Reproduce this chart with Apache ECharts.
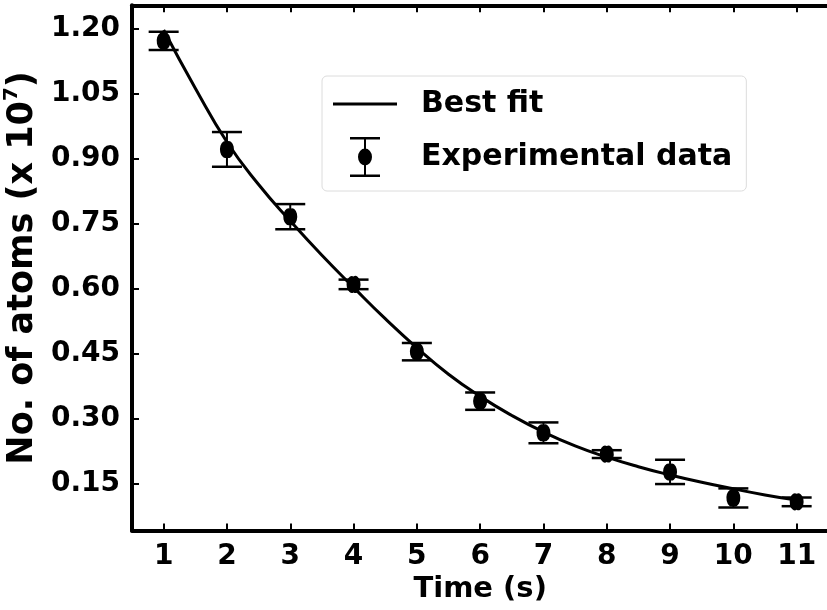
<!DOCTYPE html>
<html>
<head>
<meta charset="utf-8">
<script src="https://cdn.jsdelivr.net/npm/echarts@6/dist/echarts.min.js"></script>
<style>html,body{margin:0;padding:0;background:#fff}#c{width:827px;height:610px}</style>
</head>
<body>
<div id="c"></div>
<script>
// Experimental data
var times = [1, 2, 3, 4, 5, 6, 7, 8, 9, 10, 11];
var atoms = [1.171, 0.921, 0.766, 0.610, 0.455, 0.341, 0.268, 0.219, 0.178, 0.118, 0.109];
var errors = [0.021, 0.040, 0.029, 0.011, 0.020, 0.020, 0.024, 0.009, 0.028, 0.022, 0.010];
// Best-fit curve
var fitT = [1, 1.5, 2, 2.5, 3, 3.5, 4, 4.5, 5, 5.5, 6, 6.5, 7, 7.5, 8, 8.5, 9, 9.5, 10, 10.5, 11];
var fitN = [1.196, 1.062, 0.938, 0.840, 0.756, 0.677, 0.603, 0.531, 0.464, 0.403, 0.352, 0.308, 0.270, 0.238, 0.212, 0.190, 0.171, 0.154, 0.139, 0.125, 0.113];
// Tick labels
var xTicks = [1, 2, 3, 4, 5, 6, 7, 8, 9, 10, 11];
var yTicks = [0.15, 0.30, 0.45, 0.60, 0.75, 0.90, 1.05, 1.20];

var FONT = 'DejaVu Sans';
var chart = echarts.init(document.getElementById('c'), null, {renderer: 'canvas'});

var fitData = fitT.map(function (t, i) { return [t, fitN[i]]; });
var expData = times.map(function (t, i) { return [t, atoms[i], errors[i]]; });

var ellipse = 'path://M0,-8A7,8.5,0,1,1,0,8A7,8.5,0,1,1,0,-8Z';
var lineIcon = 'path://M0,0H64V3H0Z';
var ebIcon = 'path://M0,0H30V2.5H0Z M0,37.5H30V40H0Z M14,2.5H16V37.5H14Z M15,11.5A7,8.5,0,1,1,15,28.5A7,8.5,0,1,1,15,11.5Z';

var axisLineStyle = {show: true, lineStyle: {color: '#000', width: 4}};
var tickStyle = {inside: true, length: 7, lineStyle: {color: '#000', width: 2}};

chart.setOption({
  animation: false,
  backgroundColor: '#fff',
  grid: {left: 132, right: -1.3, top: 5.3, bottom: 79.5, containLabel: false, outerBoundsMode: 'none'},
  legend: {
    orient: 'vertical',
    left: 322, top: 76,
    padding: [13, 14, 14, 11],
    itemGap: 18,
    itemWidth: 64, itemHeight: 40,
    backgroundColor: 'rgba(255,255,255,0.8)',
    borderColor: '#dcdcdc', borderWidth: 1, borderRadius: 5,
    textStyle: {fontFamily: FONT, fontSize: 30, fontWeight: 'bold', color: '#000', padding: [0, 0, 0, 19]},
    data: [{name: 'Best fit', icon: lineIcon}, {name: 'Experimental data', icon: ebIcon}]
  },
  xAxis: [{
    type: 'value', min: 0.5, max: 11.5,
    name: 'Time (s)', nameLocation: 'middle', nameGap: 44,
    nameTextStyle: {fontFamily: FONT, fontSize: 29, fontWeight: 'bold', color: '#000'},
    axisLine: axisLineStyle,
    axisTick: Object.assign({customValues: xTicks}, tickStyle),
    axisLabel: {customValues: xTicks, fontFamily: FONT, fontSize: 28, fontWeight: 'bold', color: '#000', margin: 12},
    splitLine: {show: false}
  }, {
    type: 'value', min: 0.5, max: 11.5, position: 'top',
    axisLine: axisLineStyle,
    axisTick: Object.assign({customValues: xTicks}, tickStyle),
    axisLabel: {show: false},
    splitLine: {show: false}
  }],
  yAxis: [{
    type: 'value', min: 0.043, max: 1.253,
    name: '{a|No. of atoms (x 10}{s|7}{a|)}', nameLocation: 'middle', nameGap: 74, nameRotate: 90,
    nameTextStyle: {
      fontFamily: FONT, fontSize: 35, fontWeight: 'bold', color: '#000',
      rich: {
        a: {fontFamily: FONT, fontSize: 35, fontWeight: 'bold', color: '#000', lineHeight: 42},
        s: {fontFamily: FONT, fontSize: 20, fontWeight: 'bold', color: '#000', lineHeight: 22, verticalAlign: 'top'}
      }
    },
    axisLine: axisLineStyle,
    axisTick: Object.assign({customValues: yTicks}, tickStyle),
    axisLabel: {customValues: yTicks, fontFamily: FONT, fontSize: 28, fontWeight: 'bold', color: '#000', margin: 12,
      formatter: function (v) { return v.toFixed(2); }},
    splitLine: {show: false}
  }],
  series: [{
    name: 'Best fit', type: 'line', data: fitData,
    symbol: 'none', smooth: 0.5,
    lineStyle: {color: '#000', width: 3},
    itemStyle: {color: '#000'},
    z: 3
  }, {
    name: 'Experimental data', type: 'custom', data: expData,
    encode: {x: 0, y: 1},
    itemStyle: {color: '#000'},
    renderItem: function (params, api) {
      var x = api.value(0), y = api.value(1), e = api.value(2);
      var top = api.coord([x, y + e]);
      var bot = api.coord([x, y - e]);
      var hw = 15;
      return {
        type: 'group',
        children: [
          {type: 'line', shape: {x1: top[0], y1: top[1], x2: bot[0], y2: bot[1]}, style: {stroke: '#000', lineWidth: 2}},
          {type: 'line', shape: {x1: top[0] - hw, y1: top[1], x2: top[0] + hw, y2: top[1]}, style: {stroke: '#000', lineWidth: 2.5}},
          {type: 'line', shape: {x1: bot[0] - hw, y1: bot[1], x2: bot[0] + hw, y2: bot[1]}, style: {stroke: '#000', lineWidth: 2.5}}
        ]
      };
    },
    z: 4
  }, {
    name: 'Experimental data', type: 'scatter', data: expData.map(function (d) { return [d[0], d[1]]; }),
    symbol: ellipse, symbolSize: [14, 17],
    itemStyle: {color: '#000', opacity: 1},
    z: 5
  }]
});
</script>
</body>
</html>
